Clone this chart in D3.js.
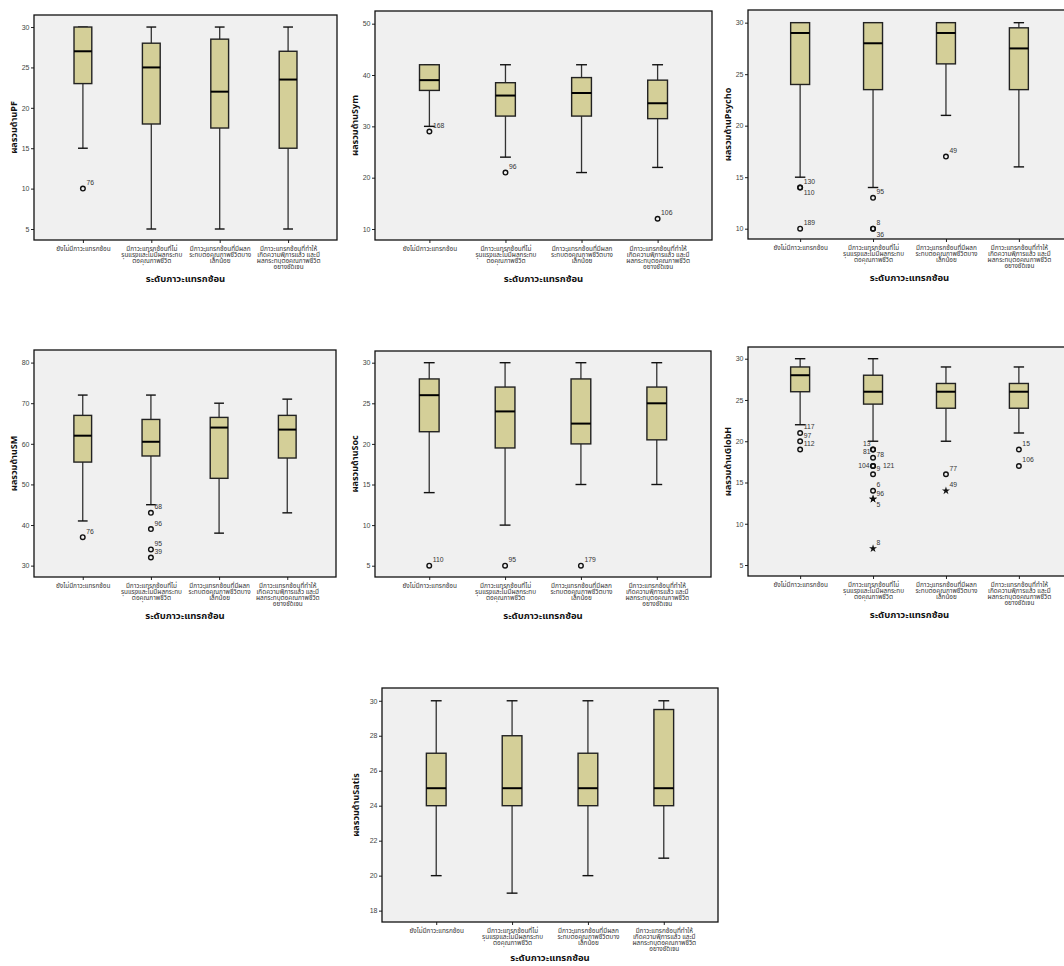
<!DOCTYPE html>
<html>
<head>
<meta charset="utf-8">
<script src="https://cdn.jsdelivr.net/npm/d3@7"></script>
<style>
  body { margin: 0; background: #fff; }
  svg { display: block; }
</style>
</head>
<body>
<svg id="chart" width="1064" height="966"></svg>
<script>
// Complication level groups (x-axis categories), wrapped as drawn under the axis
const categoryLines = [
  ["ยังไม่มีภาวะแทรกซ้อน"],
  ["มีภาวะแทรกซ้อนที่ไม่", "รุนแรงและไม่มีผลกระทบ", "ต่อคุณภาพชีวิต"],
  ["มีภาวะแทรกซ้อนที่มีผลก", "ระทบต่อคุณภาพชีวิตบาง", "เล็กน้อย"],
  ["มีภาวะแทรกซ้อนที่ทำให้", "เกิดความพิการแล้ว และมี", "ผลกระทบต่อคุณภาพชีวิต", "อย่างชัดเจน"]
];
const xTitle = "ระดับภาวะแทรกซ้อน";

// Box statistics per group: [lower whisker, Q1, median, Q3, upper whisker]
// Outliers: [group index, value, case id, marker] ('o' = outlier, '*' = extreme)
const pfStats = [[15, 23, 27, 30, 30], [5, 18, 25, 28, 30], [5, 17.5, 22, 28.5, 30], [5, 15, 23.5, 27, 30]];
const pfOutliers = [[0, 10, "76", "o"]];
const pfTicks = [5, 10, 15, 20, 25, 30];
const pfDomain = [3.64, 31.49];

const symStats = [[30, 37, 39, 42, 42], [24, 32, 36, 38.5, 42], [21, 32, 36.5, 39.5, 42], [22, 31.5, 34.5, 39, 42]];
const symOutliers = [[0, 29, "168", "o"], [1, 21, "96", "o"], [3, 12, "106", "o"]];
const symTicks = [10, 20, 30, 40, 50];
const symDomain = [7.86, 52.47];

const psychoStats = [[15, 24, 29, 30, 30], [14, 23.5, 28, 30, 30], [21, 26, 29, 30, 30], [16, 23.5, 27.5, 29.5, 30]];
const psychoOutliers = [
  [0, 14, "130", "o"], [0, 14, "110", "o"], [0, 10, "189", "o"],
  [1, 13, "95", "o"], [1, 10, "8", "o"], [1, 10, "36", "o"],
  [2, 17, "49", "o"]
];
const psychoTicks = [10, 15, 20, 25, 30];
const psychoDomain = [9.0, 31.23];

const smStats = [[41, 55.5, 62, 67, 72], [45, 57, 60.5, 66, 72], [38, 51.5, 64, 66.5, 70], [43, 56.5, 63.5, 67, 71]];
const smOutliers = [
  [0, 37, "76", "o"],
  [1, 43, "68", "o"], [1, 39, "96", "o"], [1, 34, "95", "o"], [1, 32, "39", "o"]
];
const smTicks = [30, 40, 50, 60, 70, 80];
const smDomain = [27.2, 83.1];

const socStats = [[14, 21.5, 26, 28, 30], [10, 19.5, 24, 27, 30], [15, 20, 22.5, 28, 30], [15, 20.5, 25, 27, 30]];
const socOutliers = [[0, 5, "110", "o"], [1, 5, "95", "o"], [2, 5, "179", "o"]];
const socTicks = [5, 10, 15, 20, 25, 30];
const socDomain = [3.61, 31.44];

const globhStats = [[22, 26, 28, 29, 30], [20, 24.5, 26, 28, 30], [20, 24, 26, 27, 29], [21, 24, 26, 27, 29]];
const globhOutliers = [
  [0, 21, "117", "o"], [0, 20, "97", "o"], [0, 19, "112", "o"],
  [1, 19, "13", "o"], [1, 19, "78", "o"], [1, 18, "81", "o"], [1, 17, "104", "o"], [1, 17, "121", "o"],
  [1, 16, "9", "o"], [1, 14, "6", "o"], [1, 13, "96", "*"], [1, 13, "5", "*"], [1, 7, "8", "*"],
  [2, 16, "77", "o"], [2, 14, "49", "*"],
  [3, 19, "15", "o"], [3, 17, "106", "o"]
];
const globhTicks = [5, 10, 15, 20, 25, 30];
const globhDomain = [3.67, 31.42];

const satisStats = [[20, 24, 25, 27, 30], [19, 24, 25, 28, 30], [20, 24, 25, 27, 30], [21, 24, 25, 29.5, 30]];
const satisOutliers = [];
const satisTicks = [18, 20, 22, 24, 26, 28, 30];
const satisDomain = [17.35, 30.73];

// Panel layout: plot-area rectangle for each small chart
const panels = [
  { title: "ผลรวมด้านPF",     stats: pfStats,     outliers: pfOutliers,     ticks: pfTicks,     domain: pfDomain,     rect: [34, 15, 337, 240],  titleGap: 20, xTitleGap: 42 },
  { title: "ผลรวมด้านSym",    stats: symStats,    outliers: symOutliers,    ticks: symTicks,    domain: symDomain,    rect: [375, 11, 712, 240], titleGap: 20, xTitleGap: 42 },
  { title: "ผลรวมด้านPsycho", stats: psychoStats, outliers: psychoOutliers, ticks: psychoTicks, domain: psychoDomain, rect: [748, 10, 1071, 239], titleGap: 20, xTitleGap: 42 },
  { title: "ผลรวมด้านSM",     stats: smStats,     outliers: smOutliers,     ticks: smTicks,     domain: smDomain,     rect: [34, 350, 336, 577], titleGap: 20, xTitleGap: 42 },
  { title: "ผลรวมด้านSoc",    stats: socStats,    outliers: socOutliers,    ticks: socTicks,    domain: socDomain,    rect: [375, 351, 711, 577], titleGap: 20, xTitleGap: 42 },
  { title: "ผลรวมด้านGlobH",  stats: globhStats,  outliers: globhOutliers,  ticks: globhTicks,  domain: globhDomain,  rect: [748, 347, 1071, 576], titleGap: 20, xTitleGap: 42 },
  { title: "ผลรวมด้านSatis",  stats: satisStats,  outliers: satisOutliers,  ticks: satisTicks,  domain: satisDomain,  rect: [382, 688, 718, 922], titleGap: 26, xTitleGap: 39 }
];

// Case-label placement where the crowded GlobH column spreads labels sideways
const labelSideOverride = { "5:1:13": "ul", "5:1:81": "ul", "5:1:104": "l", "5:1:121": "r" };

const FONT = "'Liberation Sans', Arial, sans-serif";
const THAI = "'Noto Sans Thai', 'Tahoma', 'DejaVu Sans', sans-serif";
const BOX_FILL = "#d4cf98";
const PLOT_BG = "#f0f0f0";

const svg = d3.select("#chart");

panels.forEach((p, pi) => {
  const [x0, y0, x1, y1] = p.rect;
  const g = svg.append("g");

  const x = d3.scalePoint().domain(d3.range(categoryLines.length)).range([x0, x1]).padding(0.715);
  const y = d3.scaleLinear().domain(p.domain).range([y1, y0]);
  const bw = x.step() * 0.26;
  const cap = bw * 0.55;

  // plot background
  g.append("rect").attr("x", x0).attr("y", y0).attr("width", x1 - x0).attr("height", y1 - y0)
    .attr("fill", PLOT_BG);

  // y axis
  const yAxis = d3.axisLeft(y).tickValues(p.ticks).tickSize(3).tickPadding(1.5).tickFormat(d3.format("d"));
  const ya = g.append("g").attr("transform", `translate(${x0},0)`).call(yAxis);
  ya.select(".domain").remove();
  ya.selectAll(".tick line").attr("stroke", "#222").attr("stroke-width", 1);
  ya.selectAll(".tick text").attr("font-family", FONT).attr("font-size", 7).attr("fill", "#444");

  // x axis tick marks and wrapped category labels
  const xAxis = d3.axisBottom(x).tickSize(3).tickFormat("");
  const xa = g.append("g").attr("transform", `translate(0,${y1})`).call(xAxis);
  xa.select(".domain").remove();
  xa.selectAll(".tick line").attr("stroke", "#222").attr("stroke-width", 1);
  xa.selectAll(".tick").each(function (d) {
    const t = d3.select(this).append("text")
      .attr("text-anchor", "middle").attr("font-family", THAI).attr("font-size", 6.4).attr("fill", "#333");
    categoryLines[d].forEach((line, li) => {
      t.append("tspan").attr("x", 0).attr("y", 11 + li * 6.0).text(line);
    });
  });

  // axis titles
  g.append("text")
    .attr("transform", `translate(${x0 - p.titleGap},${(y0 + y1) / 2}) rotate(-90)`)
    .attr("text-anchor", "middle").attr("dominant-baseline", "middle")
    .attr("font-family", THAI).attr("font-weight", "bold").attr("font-size", 9).attr("fill", "#111")
    .text(p.title);
  g.append("text")
    .attr("x", (x0 + x1) / 2).attr("y", y1 + p.xTitleGap)
    .attr("text-anchor", "middle")
    .attr("font-family", THAI).attr("font-weight", "bold").attr("font-size", 9.5).attr("fill", "#111")
    .text(xTitle);

  // boxes
  const boxes = g.selectAll(".box").data(p.stats).join("g").attr("class", "box")
    .attr("transform", (d, i) => `translate(${x(i)},0)`);
  boxes.append("line").attr("x1", 0).attr("x2", 0)
    .attr("y1", d => y(d[0])).attr("y2", d => y(d[1]))
    .attr("stroke", "#333").attr("stroke-width", 1.3);
  boxes.append("line").attr("x1", 0).attr("x2", 0)
    .attr("y1", d => y(d[3])).attr("y2", d => y(d[4]))
    .attr("stroke", "#333").attr("stroke-width", 1.3);
  boxes.append("line").attr("x1", -cap / 2).attr("x2", cap / 2)
    .attr("y1", d => y(d[0])).attr("y2", d => y(d[0]))
    .attr("stroke", "#111").attr("stroke-width", 1.4);
  boxes.append("line").attr("x1", -cap / 2).attr("x2", cap / 2)
    .attr("y1", d => y(d[4])).attr("y2", d => y(d[4]))
    .attr("stroke", "#111").attr("stroke-width", 1.4);
  boxes.append("rect")
    .attr("x", -bw / 2).attr("width", bw)
    .attr("y", d => y(d[3])).attr("height", d => y(d[1]) - y(d[3]))
    .attr("fill", BOX_FILL).attr("stroke", "#222").attr("stroke-width", 1.4);
  boxes.append("line").attr("x1", -bw / 2).attr("x2", bw / 2)
    .attr("y1", d => y(d[2])).attr("y2", d => y(d[2]))
    .attr("stroke", "#000").attr("stroke-width", 2);

  // outliers and extremes
  const groups = d3.group(p.outliers, d => d[0] + ":" + d[1]);
  p.outliers.forEach(o => {
    const [ci, v, id, kind] = o;
    const cx = x(ci), cy = y(v);
    if (kind === "*") {
      g.append("path").attr("d", d3.symbol(d3.symbolStar, 20)())
        .attr("transform", `translate(${cx},${cy})`).attr("fill", "#111");
    } else {
      g.append("circle").attr("cx", cx).attr("cy", cy).attr("r", 2.3)
        .attr("fill", "none").attr("stroke", "#111").attr("stroke-width", 1.4);
    }
    const same = groups.get(ci + ":" + v);
    let side = same.indexOf(o) === 0 ? "ur" : "lr";
    side = labelSideOverride[pi + ":" + ci + ":" + id] || side;
    const pos = {
      ur: [cx + 3.5, cy - 3.5, "start"],
      lr: [cx + 3.5, cy + 8, "start"],
      ul: [cx - 2.5, cy - 3.5, "end"],
      l:  [cx - 3.5, cy + 2, "end"],
      r:  [cx + 10, cy + 2, "start"]
    }[side];
    g.append("text").attr("x", pos[0]).attr("y", pos[1]).attr("text-anchor", pos[2])
      .attr("font-family", FONT).attr("font-size", 6.8).attr("fill", "#333").text(id);
  });

  // plot frame
  g.append("rect").attr("x", x0).attr("y", y0).attr("width", x1 - x0).attr("height", y1 - y0)
    .attr("fill", "none").attr("stroke", "#111").attr("stroke-width", 1.3);
});
</script>
</body>
</html>
